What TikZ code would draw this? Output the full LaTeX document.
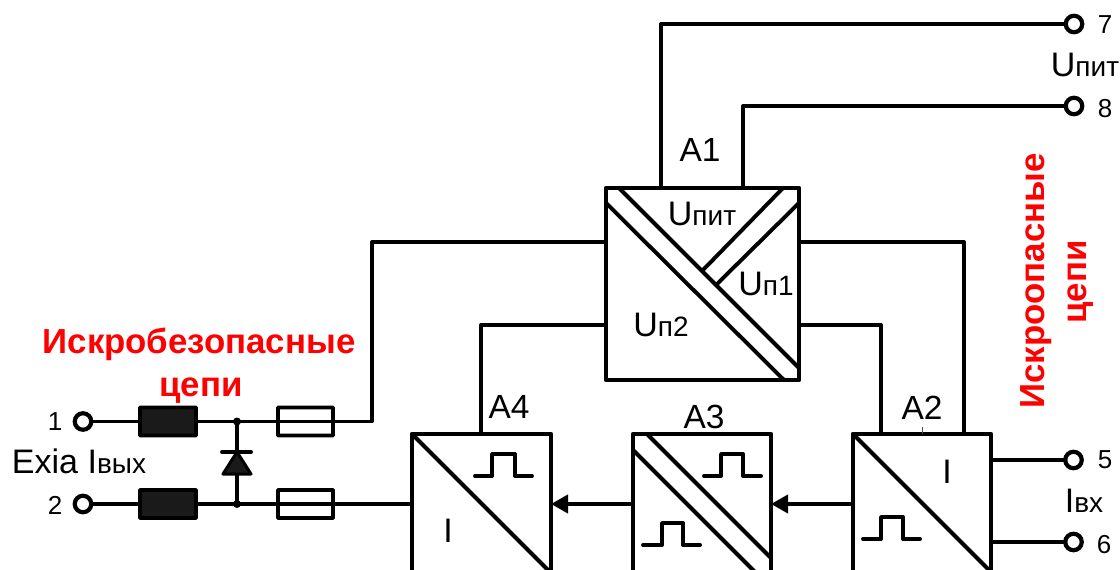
\documentclass[tikz,border=0pt]{standalone}
\usepackage{fontspec}
\setmainfont{Liberation Sans}
\usetikzlibrary{arrows.meta}
\newcommand{\fs}[1]{\fontsize{#1}{#1}\selectfont}
\newcommand{\lbl}[2]{{\fs{34}#1}{\fs{28}#2}}
\definecolor{ink}{HTML}{000000}
\definecolor{dark}{HTML}{1A1A1A}
\tikzset{
  x=1pt,y=-1pt,
  wire/.style={line width=3.9pt,draw=ink,line join=round,line cap=round},
  block/.style={draw=ink,line width=4.2pt,rectangle,anchor=north west,inner sep=0pt,outer sep=0pt,line join=round},
  term/.style={circle,draw=ink,line width=4.2pt,fill=white,inner sep=0pt,outer sep=0pt,minimum size=16.5pt},
  inductor/.style={draw=ink,fill=dark,line width=3.6pt,rectangle,rounded corners=0.5pt,inner sep=0pt,outer sep=0pt,minimum width=56pt,minimum height=28pt},
  fuse/.style={draw=ink,line width=3.6pt,rectangle,rounded corners=0.5pt,inner sep=0pt,outer sep=0pt,minimum width=55pt,minimum height=28pt},
  junction/.style={circle,fill=ink,inner sep=0pt,outer sep=0pt,minimum size=8pt},
  txt/.style={inner sep=0pt,outer sep=0pt,anchor=base,text=ink},
  redtxt/.style={inner sep=0pt,outer sep=0pt,anchor=base,text=red,font=\fs{34.8}\bfseries},
  arrowed/.style={wire,line cap=butt,-{Triangle[length=17pt,width=18pt]}},
}
\begin{document}
\begin{tikzpicture}
\useasboundingbox (0,0) rectangle (1120,570);
\clip (0,0) rectangle (1120,570);

% blocks
\node[block,minimum width=193pt,minimum height=192pt] (A1) at (606,188) {};
\node[block,minimum width=139pt,minimum height=200pt] (A4) at (412,434) {};
\node[block,minimum width=138pt,minimum height=200pt] (A3) at (633,434) {};
\node[block,minimum width=138pt,minimum height=200pt] (A2) at (853,434) {};

% block partitions
\draw[wire] (619,188) -- (799,368);
\draw[wire] (606,203) -- (784,380);
\draw[wire] (783,188) -- (703,270);
\draw[wire] (799,203) -- (717,284);
\draw[wire] (412,434) -- (551,573);
\draw[wire] (647,434) -- (771,558);
\draw[wire] (633,450) -- (757,574);
\draw[wire] (853,434) -- (991,572);

% pulses
\draw[wire] (475,476) -- (492,476) -- (492,454) -- (515,454) -- (515,476) -- (532,476);
\draw[wire] (704,476) -- (721,476) -- (721,454) -- (743,454) -- (743,476) -- (761,476);
\draw[wire] (643,545) -- (662,545) -- (662,523) -- (683,523) -- (683,545) -- (700,545);
\draw[wire] (863,539) -- (881,539) -- (881,517) -- (903,517) -- (903,539) -- (920,539);

% connection points
\coordinate (c1) at (372,421.5);
\coordinate (a1L1) at (606,242);
\coordinate (a1L2) at (606,325);
\coordinate (a1R1) at (799,242);
\coordinate (a1R2) at (799,325);
\coordinate (a1T1) at (661,188);
\coordinate (a1T2) at (743,188);
\coordinate (a4T) at (481,434);
\coordinate (a2T1) at (881,434);
\coordinate (a2T2) at (964,434);
\coordinate (a2T3) at (922,434);
\coordinate (a2Tt) at (922,427);
\coordinate (a4L) at (412,504);
\coordinate (a4R) at (551,504);
\coordinate (a3L) at (633,504);
\coordinate (a3R) at (771,504);
\coordinate (a2L) at (853,504);
\coordinate (a2R1) at (991,460);
\coordinate (a2R2) at (991,542);

% input chain
\node[inductor] (L1) at (168,421.5) {};
\node[inductor] (L2) at (168,504) {};
\node[fuse] (F1) at (305.5,421.5) {};
\node[fuse] (F2) at (305.5,504) {};
\node[junction] (J1) at (237,421.5) {};
\node[junction] (J2) at (237,504) {};

% wires
\draw[wire] (L1) -- (J1);
\draw[wire] (J1) -- (c1) |- (a1L1);
\draw[wire] (L2) -- (J2);
\draw[wire] (J2) -- (a4L);
\draw[wire] (J1) -- (J2);
\draw[wire] (a1L2) -| (a4T);
\draw[wire] (a1R1) -| (a2T2);
\draw[wire] (a1R2) -| (a2T1);
\draw[arrowed] (a3L) -- (a4R);
\draw[arrowed] (a2L) -- (a3R);
\draw[line width=0.8pt,draw=black!70] (a2T3) -- (a2Tt);

% terminals
\node[term] (t1) at (83,421.5) {};
\node[term] (t2) at (83,504) {};
\node[term] (t5) at (1073.5,460) {};
\node[term] (t6) at (1073.5,542) {};
\node[term] (t7) at (1074,24) {};
\node[term] (t8) at (1074,106) {};
\draw[wire] (t1) -- (L1);
\draw[wire] (t2) -- (L2);
\draw[wire] (a1T1) |- (t7);
\draw[wire] (a1T2) |- (t8);
\draw[wire] (a2R1) -- (t5);
\draw[wire] (a2R2) -- (t6);

% diode
\fill[dark,draw=ink,line width=3pt,line join=round] (237,452) -- (251,474) -- (223,474) -- cycle;
\draw[wire] (222,452) -- (251,452);

% labels
\node[txt] (la1) at (700,161) {\fs{33.5}A1};
\node[txt] (la4) at (509,418) {\fs{33.5}A4};
\node[txt] (la3) at (704,428) {\fs{33.5}A3};
\node[txt] (la2) at (922,419) {\fs{33.5}A2};
\node[txt] (upit) at (702,225) {\lbl{U}{пит}};
\node[txt] (up1) at (766,295) {\lbl{U}{п1}};
\node[txt] (up2) at (661,336) {\lbl{U}{п2}};
\node[txt] (ia4) at (448,542) {\fs{34}I};
\node[txt] (ia2) at (947,483) {\fs{34}I};
\node[txt] (n1) at (55,430) {\fs{26}1};
\node[txt] (n2) at (55,514) {\fs{26}2};
\node[txt] (n5) at (1105,468) {\fs{26}5};
\node[txt] (n6) at (1104,553) {\fs{26}6};
\node[txt] (n7) at (1105,33) {\fs{26}7};
\node[txt] (n8) at (1105,117) {\fs{26}8};
\node[txt] (upit2) at (1085,76) {\lbl{U}{пит}};
\node[txt] (ibx) at (1084,512) {\lbl{I}{вх}};
\node[txt,anchor=base west] (exia) at (12,473) {\lbl{Exia I}{вых}};
\node[redtxt] (r1) at (199,353) {Искробезопасные};
\node[redtxt] (r2) at (201,396) {цепи};
\node[redtxt,rotate=90] (r3) at (1044,281) {Искроопасные};
\node[redtxt,rotate=90] (r4) at (1086,282) {цепи};
\end{tikzpicture}
\end{document}
